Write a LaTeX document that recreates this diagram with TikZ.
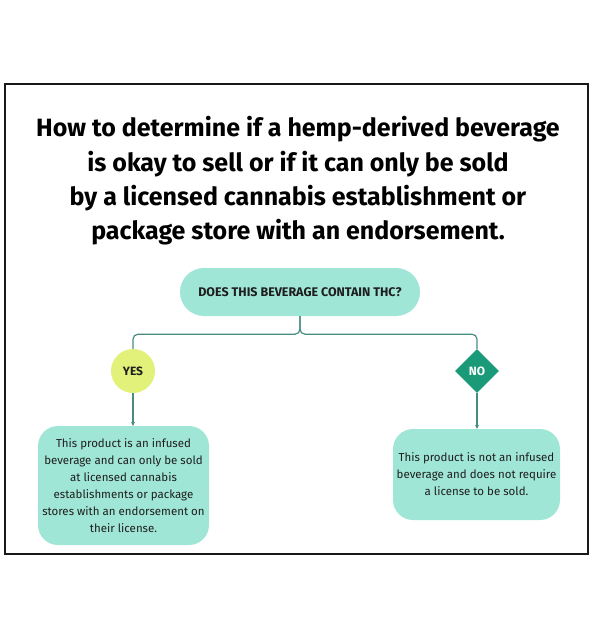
\documentclass[tikz,border=0pt]{standalone}
\usepackage{fontspec}
\setmainfont{Fira Sans}
\usetikzlibrary{shapes.geometric,arrows.meta}
\definecolor{mint}{RGB}{160,230,214}
\definecolor{teal}{RGB}{70,140,128}
\definecolor{lime}{RGB}{226,241,122}
\definecolor{jade}{RGB}{26,154,120}
\definecolor{ink}{RGB}{30,30,30}
\tikzset{
  box/.style={fill=mint, rounded corners=20pt, align=center, font=\fontsize{11.5}{17}\selectfont, text=ink, inner sep=0pt},
  conn/.style={draw=teal, line width=1.2pt},
  arr/.style={conn, -{Stealth[length=4pt,width=4pt]}},
}
\begin{document}
\begin{tikzpicture}[x=1pt,y=-1pt]
\useasboundingbox (0,0) rectangle (598,639);
\draw[line width=2.5pt, black!90] (5,84) rectangle (588,554);
\node[font=\fontsize{25}{34.3}\selectfont\bfseries, align=center, text=black] (title) at (298,181)
 {How to determine if a hemp-derived beverage\\is okay to sell or if it can only be sold\\by a licensed cannabis establishment or\\package store with an endorsement.};
\node[fill=mint, rounded corners=24pt, minimum width=240pt, minimum height=48pt, inner sep=0pt, font=\fontsize{12.5}{14}\selectfont\bfseries, text=ink] (top) at (300,292) {DOES THIS BEVERAGE CONTAIN THC?};
\node[circle, fill=lime, minimum size=44pt, inner sep=0pt, font=\fontsize{12}{14}\selectfont\bfseries, text=ink] (yes) at (133,371) {YES};
\node[diamond, fill=jade, minimum width=44pt, minimum height=44pt, inner sep=0pt, font=\fontsize{12}{14}\selectfont\bfseries, text=white] (no) at (477,371) {NO};
\node[box, minimum width=171pt, minimum height=119pt] (lbox) at (123.5,485.5) {This product is an infused\\beverage and can only be sold\\at licensed cannabis\\establishments or package\\stores with an endorsement on\\their license.};
\node[box, minimum width=167pt, minimum height=91pt] (rbox) at (476.5,474.5) {This product is not an infused\\beverage and does not require\\a license to be sold.};
\draw[conn, rounded corners=5pt] (top.south) -- ++(0,18) -| (yes.north);
\draw[conn, rounded corners=5pt] (top.south) -- ++(0,18) -| (no.north);
\draw[arr] (yes.south) -- (lbox.north -| yes.south);
\draw[arr] (no.south) -- (rbox.north -| no.south);
\end{tikzpicture}
\end{document}
